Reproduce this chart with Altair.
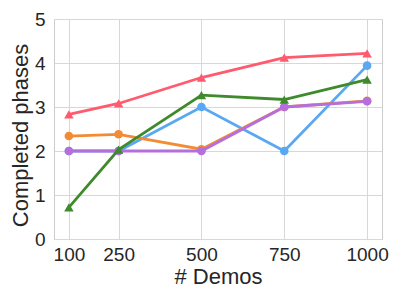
import altair as alt
import pandas as pd

demos = [100, 250, 500, 750, 1000]
series_names = ["blue", "orange", "purple", "green", "red"]
values = {
    "blue":   [2.0, 2.0, 3.0, 2.0, 3.94],
    "orange": [2.34, 2.38, 2.04, 3.0, 3.14],
    "purple": [2.0, 2.0, 2.0, 3.0, 3.13],
    "green":  [0.72, 2.03, 3.27, 3.17, 3.62],
    "red":    [2.83, 3.08, 3.67, 4.12, 4.22],
}
colors = {
    "blue": "#5BA8F2",
    "orange": "#F28B34",
    "purple": "#B56FDC",
    "green": "#3E8A2C",
    "red": "#FF5A6E",
}
shapes = {
    "blue": "circle",
    "orange": "circle",
    "purple": "circle",
    "green": "triangle-up",
    "red": "triangle-up",
}
y_ticks = [0, 1, 2, 3, 4, 5]

xscale = alt.Scale(domain=[55, 1045], nice=False, zero=False)
yscale = alt.Scale(domain=[0, 5], nice=False)
xaxis = alt.Axis(values=demos, title="# Demos", grid=True, format="d")
yaxis = alt.Axis(values=y_ticks, title="Completed phases", grid=True, format="d", titleY=116)

layers = []
for name in series_names:
    df = pd.DataFrame({"demos": demos, "value": values[name], "series": name})
    base = alt.Chart(df).encode(
        x=alt.X("demos:Q", scale=xscale, axis=xaxis),
        y=alt.Y("value:Q", scale=yscale, axis=yaxis),
    )
    line = base.mark_line(color=colors[name], strokeWidth=2.8)
    pts = base.mark_point(shape=shapes[name], filled=True, opacity=1,
                          color=colors[name],
                          size=75 if shapes[name] == "circle" else 90)
    layers += [line, pts]

chart = alt.layer(*layers).properties(
    width=328, height=220,
    autosize=alt.AutoSizeParams(type="none"),
    padding={"left": 46, "top": 11, "right": 13, "bottom": 50},
).configure_view(
    stroke="#CCCCCC", strokeWidth=1
).configure_axis(
    labelFont="Liberation Sans", titleFont="Liberation Sans",
    labelFontSize=19, titleFontSize=22, labelColor="#262626", titleColor="#262626",
    titleFontWeight="normal",
    gridColor="#D8D8D8", gridWidth=1, domain=False, ticks=False,
).configure_axisX(
    labelPadding=6, titlePadding=2,
).configure_axisY(
    labelPadding=9, titlePadding=2,
)

chart.save("out.html", embed_options={"renderer": "svg", "actions": False})
